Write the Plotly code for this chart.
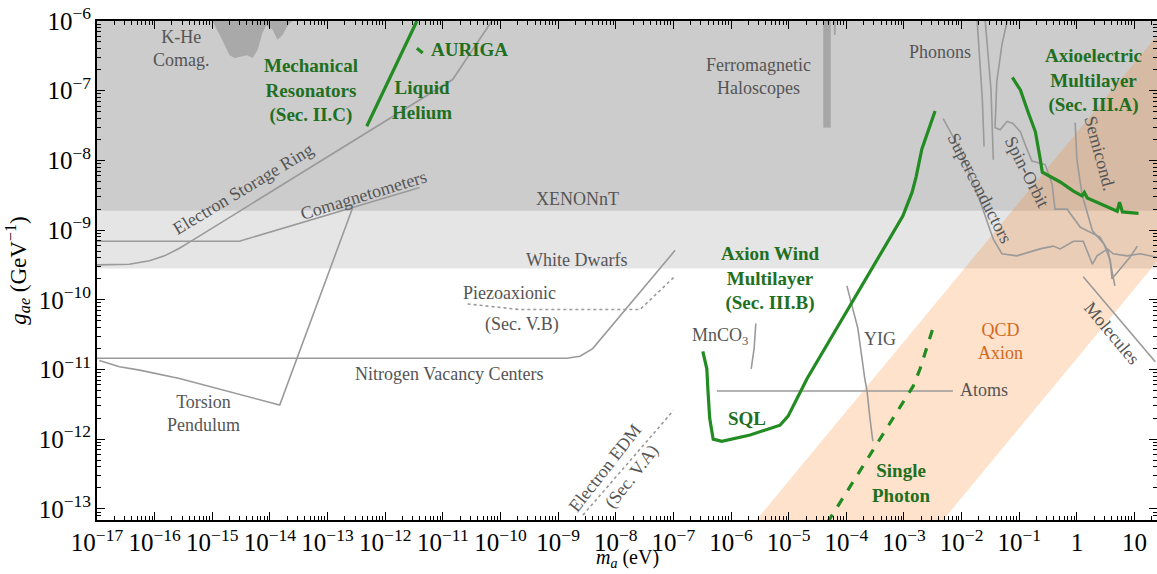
import numpy as np
import plotly.graph_objects as go

# ---------------------------------------------------------------
# Axion-electron coupling g_ae vs axion mass m_a.
# Curves are stored as log10(m_a / eV) and log10(g_ae / GeV^-1).
# ---------------------------------------------------------------

# Excluded regions (horizontal limits)
xenon_limit = 1.9e-9          # XENONnT
white_dwarf_limit = 2.8e-10   # White dwarfs
m_span = [1e-17, 30.0]

# K-He comagnetometer exclusion (closed polygon)
khe_lm = [-15.0, -14.87, -14.70, -14.61, -14.40, -14.30, -14.21, -14.13, -14.06,
          -13.95, -13.87, -13.78, -13.69, -13.61, -13.61, -15.0]
khe_lg = [-6.0, -6.20, -6.49, -6.53, -6.49, -6.53, -6.41, -6.17, -6.06,
          -6.13, -6.27, -6.20, -6.06, -6.0, -5.8, -5.8]

# Ferromagnetic haloscopes
ferro_lm = [-4.40, -4.27, -4.27, -4.40, -4.40]
ferro_lg = [-7.53, -7.53, -5.8, -5.8, -7.53]
ferro2_lm = [-4.20, -4.20]
ferro2_lg = [-5.9, -6.2]

# QCD axion band (closed polygon)
qcd_lm = [-5.60, 1.60, 1.60, -2.36]
qcd_lg = [-13.20, -6.00, -9.24, -13.20]

# Existing / proposed limits (grey)
esr_lm = [-17.0, -16.44, -16.09, -15.83, -15.57, -15.31, -10.83, -10.15]
esr_lg = [-9.50, -9.49, -9.44, -9.37, -9.26, -9.13, -6.84, -6.0]

comag_lm = [-17.0, -14.53, -11.40]
comag_lg = [-9.16, -9.16, -8.39]

torsion_lm = [-16.96, -16.61, -16.26, -15.57, -13.83, -12.56]
torsion_lg = [-10.87, -10.96, -11.01, -11.13, -11.51, -8.67]

nv_lm = [-17.0, -8.85, -8.62, -8.40, -6.97]
nv_lg = [-10.84, -10.84, -10.81, -10.70, -9.29]

piezo_lm = [-10.57, -9.67, -7.58, -6.97]
piezo_lg = [-10.06, -10.14, -10.14, -9.66]

edm_lm = [-8.57, -7.00]
edm_lg = [-13.09, -11.59]

mnco3_lm = [-5.57, -5.60, -5.65]
mnco3_lg = [-10.34, -10.70, -10.99]

yig_lm = [-3.99, -3.80, -3.68, -3.64, -3.59, -3.54]
yig_lg = [-9.80, -10.41, -11.13, -11.31, -11.70, -12.03]

atoms_lm = [-6.245, -2.15]
atoms_lg = [-11.31, -11.31]

molecules_lm = [0.11, 1.36]
molecules_lg = [-9.67, -10.89]

supercond_lm = [-2.32, -2.03, -1.72, -1.45, -1.30, -1.04, -0.64, -0.41, -0.29, -0.06,
                0.11, 0.27, 0.35, 0.53, 0.63, 0.87, 1.10, 1.39]
supercond_lg = [-7.40, -7.84, -8.49, -9.13, -9.34, -9.37, -9.27, -9.23, -9.27, -9.16,
                -9.16, -9.49, -9.37, -9.27, -9.34, -9.37, -9.34, -9.39]

phonon1_lm = [-1.73, -1.68, -1.64, -1.61]
phonon1_lg = [-6.0, -6.56, -7.13, -7.80]
phonon2_lm = [-1.59, -1.54, -1.49, -1.45]
phonon2_lg = [-6.0, -6.56, -6.99, -7.99]

spinorbit_lm = [-1.21, -1.30, -1.39, -1.42, -1.33, -1.21, -1.11, -0.98, -0.88, -0.78,
                -0.55, -0.43, -0.38, -0.17, 0.06, 0.40, 0.54, 0.66]
spinorbit_lg = [-6.0, -6.34, -6.87, -7.53, -7.56, -7.44, -7.47, -7.59, -7.81, -8.01,
                -8.06, -8.34, -8.70, -8.70, -8.96, -9.10, -9.30, -9.80]

semicond_lm = [-0.03, 0.0, 0.09, 0.27, 0.47, 0.58, 0.61, 0.75, 0.92, 1.05]
semicond_lg = [-7.46, -7.99, -8.49, -9.01, -9.20, -9.44, -9.70, -9.56, -9.39, -9.23]

# Projections (green)
mech_lm = [-12.32, -11.45]
mech_lg = [-7.51, -6.0]

auriga_lm = [-11.45, -11.35]
auriga_lg = [-6.39, -6.46]

axioel_lm = [-1.12, -0.98, -0.85, -0.72, -0.64, -0.60, -0.29, -0.06, 0.09, 0.13,
             0.18, 0.53, 0.70, 0.74, 0.79, 1.07]
axioel_lg = [-6.81, -6.99, -7.30, -7.59, -7.96, -8.17, -8.31, -8.44, -8.51, -8.46,
             -8.54, -8.67, -8.73, -8.60, -8.74, -8.76]

sql_lm = [-6.49, -6.42, -6.40, -6.37, -6.31, -6.16, -5.67, -5.15, -5.01, -4.68,
          -3.02, -2.86, -2.79, -2.69, -2.46]
sql_lg = [-10.74, -10.99, -11.31, -11.70, -12.00, -12.03, -11.94, -11.80, -11.67, -11.13,
          -8.80, -8.46, -8.24, -7.84, -7.29]

photon_lm = [-4.33, -2.98, -2.84, -2.72, -2.46]
photon_lg = [-13.20, -11.41, -11.24, -10.99, -10.31]

# Styles
GREY_LINE = "#9a9a9a"
GREY_TEXT = "#555555"
GREEN_LINE = "#228b22"
GREEN_TEXT = "#1f6f1f"
ORANGE_TEXT = "#d2691e"
SERIF = "Liberation Serif, DejaVu Serif, serif"

fig = go.Figure()


def pw(v):
    return np.power(10.0, np.asarray(v, dtype=float))


def region(x, y, color):
    fig.add_trace(go.Scatter(x=x, y=y, mode="lines", fill="toself", fillcolor=color,
                             line=dict(width=0), hoverinfo="skip"))


def curve(lm, lg, color, width, dash="solid"):
    fig.add_trace(go.Scatter(x=pw(lm), y=pw(lg), mode="lines",
                             line=dict(color=color, width=width, dash=dash),
                             hoverinfo="skip"))


# shaded exclusions
region(m_span + m_span[::-1], [white_dwarf_limit] * 2 + [1e-5] * 2, "#e5e5e5")
region(m_span + m_span[::-1], [xenon_limit] * 2 + [1e-5] * 2, "#cccccc")
region(pw(khe_lm), pw(khe_lg), "#a9a9a9")
region(pw(ferro_lm), pw(ferro_lg), "#a6a6a6")
curve(ferro2_lm, ferro2_lg, "#a6a6a6", 2)
region(pw(qcd_lm), pw(qcd_lg), "rgba(250,125,20,0.22)")

# grey limit curves
for lm, lg in [(esr_lm, esr_lg), (comag_lm, comag_lg), (torsion_lm, torsion_lg),
               (nv_lm, nv_lg), (mnco3_lm, mnco3_lg), (yig_lm, yig_lg),
               (atoms_lm, atoms_lg), (molecules_lm, molecules_lg),
               (supercond_lm, supercond_lg), (phonon1_lm, phonon1_lg),
               (phonon2_lm, phonon2_lg), (spinorbit_lm, spinorbit_lg),
               (semicond_lm, semicond_lg)]:
    curve(lm, lg, GREY_LINE, 1.6)
curve(piezo_lm, piezo_lg, GREY_LINE, 1.6, "dot")
curve(edm_lm, edm_lg, GREY_LINE, 1.6, "dot")

# green projections
for lm, lg in [(mech_lm, mech_lg), (auriga_lm, auriga_lg),
               (axioel_lm, axioel_lg), (sql_lm, sql_lg)]:
    curve(lm, lg, GREEN_LINE, 3.2)
curve(photon_lm, photon_lg, GREEN_LINE, 3.2, "dash")

# labels: (text, log10 m, log10 g, colour, bold, angle)
labels = [
    ("K-He<br>Comag.", -15.53, -6.39, GREY_TEXT, False, 0),
    ("Mechanical<br>Resonators<br>(Sec. II.C)", -13.29, -7.0, GREEN_TEXT, True, 0),
    ("Liquid<br>Helium", -11.37, -7.14, GREEN_TEXT, True, 0),
    ("AURIGA", -10.53, -6.41, GREEN_TEXT, True, 0),
    ("Ferromagnetic<br>Haloscopes", -5.52, -6.79, GREY_TEXT, False, 0),
    ("Phonons", -2.37, -6.44, GREY_TEXT, False, 0),
    ("Axioelectric<br>Multilayer<br>(Sec. III.A)", 0.28, -6.86, GREEN_TEXT, True, 0),
    ("Superconductors", -1.68, -8.39, GREY_TEXT, False, 63),
    ("Spin-Orbit", -0.86, -8.16, GREY_TEXT, False, 63),
    ("Semicond.", 0.40, -7.91, GREY_TEXT, False, 75),
    ("Electron Storage Ring", -14.47, -8.41, GREY_TEXT, False, -31),
    ("Comagnetometers", -12.37, -8.49, GREY_TEXT, False, -17),
    ("XENONnT", -8.66, -8.56, GREY_TEXT, False, 0),
    ("White Dwarfs", -8.68, -9.43, GREY_TEXT, False, 0),
    ("Piezoaxionic", -9.84, -9.90, GREY_TEXT, False, 0),
    ("(Sec. V.B)", -9.63, -10.36, GREY_TEXT, False, 0),
    ("Axion Wind<br>Multilayer<br>(Sec. III.B)", -5.32, -9.70, GREEN_TEXT, True, 0),
    ("MnCO<sub>3</sub>", -6.19, -10.53, GREY_TEXT, False, 0),
    ("YIG", -3.42, -10.56, GREY_TEXT, False, 0),
    ("QCD<br>Axion", -1.33, -10.60, ORANGE_TEXT, False, 0),
    ("Molecules", 0.61, -10.47, GREY_TEXT, False, 50),
    ("Atoms", -1.61, -11.29, GREY_TEXT, False, 0),
    ("Nitrogen Vacancy Centers", -10.88, -11.07, GREY_TEXT, False, 0),
    ("Torsion<br>Pendulum", -15.15, -11.63, GREY_TEXT, False, 0),
    ("SQL", -5.72, -11.70, GREEN_TEXT, True, 0),
    ("Electron EDM", -8.19, -12.41, GREY_TEXT, False, -52),
    ("(Sec. V.A)", -7.72, -12.53, GREY_TEXT, False, -52),
    ("Single<br>Photon", -3.05, -12.63, GREEN_TEXT, True, 0),
]
for text, lx, ly, col, bold, ang in labels:
    fig.add_annotation(x=lx, y=ly, xref="x", yref="y", showarrow=False,
                       text=f"<b>{text}</b>" if bold else text, textangle=ang,
                       font=dict(family=SERIF, size=19 if bold else 18, color=col),
                       align="center")

# x-axis title placed below the tick labels
fig.add_annotation(x=0.5, y=-0.106, xref="paper", yref="paper", showarrow=False,
                   text="<i>m</i><sub><i>a</i></sub> (eV)", yanchor="bottom",
                   font=dict(family=SERIF, size=20, color="black"))

axis_common = dict(
    type="log", showgrid=False, zeroline=False, automargin=False,
    showline=True, linecolor="black", linewidth=2, mirror="allticks",
    ticks="inside", ticklen=8, tickwidth=1.2, tickcolor="black",
    minor=dict(ticks="inside", ticklen=4, tickwidth=1, tickcolor="black", showgrid=False),
    dtick=1, exponentformat="power",
    tickfont=dict(family=SERIF, size=20, color="black"),
)

fig.update_xaxes(range=[-17.0, 1.39], **axis_common)
fig.update_yaxes(range=[-13.16, -6.0],
                 title=dict(text="<i>g</i><sub><i>ae</i></sub> (GeV<sup>−1</sup>)",
                            font=dict(family=SERIF, size=23, color="black"), standoff=6),
                 **axis_common)

fig.update_layout(
    width=1157, height=574,
    margin=dict(l=97, r=0, t=21, b=54),
    paper_bgcolor="white", plot_bgcolor="white",
    showlegend=False, hovermode=False,
)

fig.write_html("out.html")
